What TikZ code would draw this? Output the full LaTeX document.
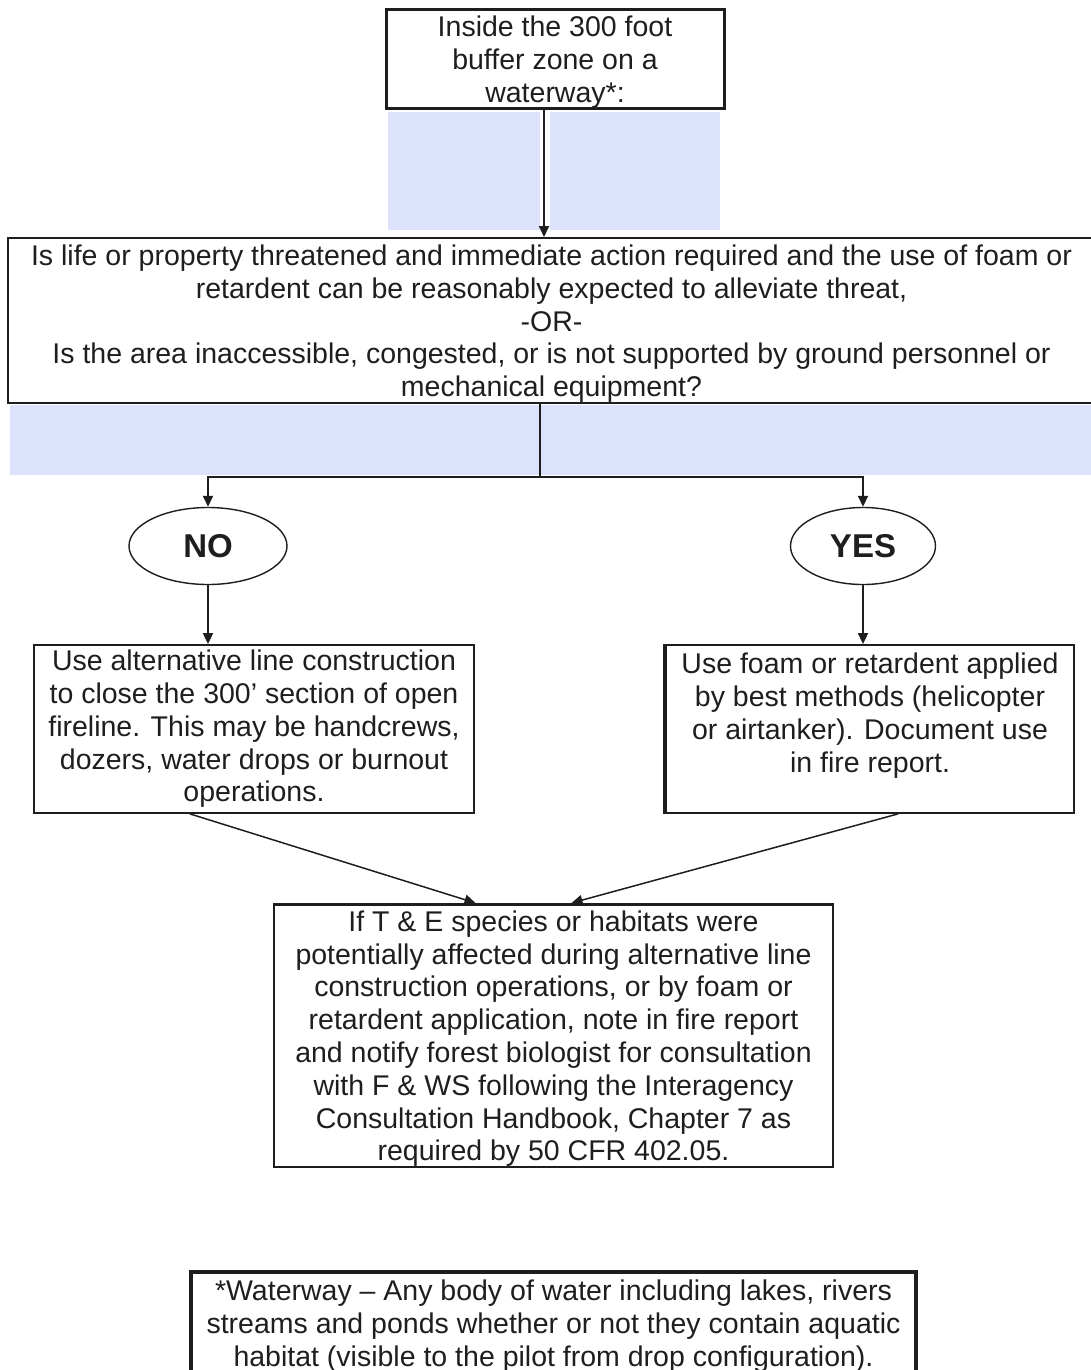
\documentclass[tikz,border=0pt]{standalone}
\usepackage{fontspec}
\setmainfont{Liberation Sans}
\usetikzlibrary{arrows.meta,shapes.geometric}
\definecolor{bandblue}{HTML}{DCE2FB}
\definecolor{ink}{HTML}{1E1E1E}
\newcommand{\lowr}{\rule{0pt}{27pt}}
\begin{document}
\begin{tikzpicture}[x=1pt,y=-1pt,
  box/.style={draw=ink, text=ink, rectangle, inner sep=0pt, align=center,
              font=\fontsize{28.5}{32.8}\selectfont},
  oval/.style={draw=ink, text=ink, ellipse, inner sep=0pt, line width=1.4pt,
               font=\fontsize{33}{36}\selectfont\bfseries},
  arr/.style={draw=ink, line width=1.8pt, -{Triangle[length=11pt,width=10pt]}},
  plain/.style={draw=ink, line width=1.8pt}]
\useasboundingbox (0,0) rectangle (1091,1370);

% light blue backgrounds
\fill[bandblue] (388,112) rectangle (540,230);
\fill[bandblue] (550,112) rectangle (720,230);
\fill[bandblue] (10,405) rectangle (1091,475);

% nodes
\node[box, line width=3pt, minimum width=338pt, minimum height=98pt] (top) at (555,59)
  {\lowr Inside the 300 foot\\ buffer zone on a\\ waterway*:};

\node[box, line width=2pt, minimum width=1087pt, minimum height=165pt] (main) at (551.5,320.5)
  {\lowr Is life or property threatened and immediate action required and the use of foam or\\
   retardent can be reasonably expected to alleviate threat,\\
   -OR-\\
   Is the area inaccessible, congested, or is not supported by ground personnel or\\
   mechanical equipment?};

\node[oval, minimum width=158pt, minimum height=77pt] (no) at (208,546) {NO};
\node[oval, minimum width=145pt, minimum height=77pt] (yes) at (863,546) {YES};

\node[box, line width=1.8pt, minimum width=440pt, minimum height=168pt] (left) at (254,729)
  {Use alternative line construction\\ to close the 300’ section of open\\
   fireline. This may be handcrews,\\ dozers, water drops or burnout\\ operations.};

\node[box, line width=1.8pt, minimum width=408pt, minimum height=168pt] (right) at (870,729)
  {Use foam or retardent applied\\ by best methods (helicopter\\
   or airtanker). Document use\\ in fire report.\\ \mbox{}};
\draw[draw=ink, line width=4pt] (right.north west) -- (right.south west);

\node[box, line width=2.5pt, minimum width=559pt, minimum height=259pt] (bot) at (553.5,1035.5)
  {\lowr If T \& E species or habitats were\\
   potentially affected during alternative line\\
   construction operations, or by foam or\\
   retardent application, note in fire report\\
   and notify forest biologist for consultation\\
   with F \& WS following the Interagency\\
   Consultation Handbook, Chapter 7 as\\
   required by 50 CFR 402.05.};

\node[box, line width=3.5pt, minimum width=725pt, minimum height=102pt] (foot) at (553.5,1323)
  {\lowr *Waterway – Any body of water including lakes, rivers\\
   streams and ponds whether or not they contain aquatic\\
   habitat (visible to the pilot from drop configuration).};

% connectors
\coordinate (c1) at (544,0);
\draw[arr] (top.south -| c1) -- (main.north -| c1);

\coordinate (j) at (540,477);
\draw[plain] (main.south -| j) -- (j);
\draw[arr] (j) -| (no.north);
\draw[arr] (j) -| (yes.north);

\draw[arr] (no.south) -- (left.north -| no);
\draw[arr] (yes.south) -- (right.north -| yes);

\draw[arr, line width=1.5pt] ([xshift=-64pt]left.south) -- ([xshift=-78pt]bot.north);
\draw[arr, line width=1.5pt] ([xshift=28pt]right.south) -- ([xshift=18pt]bot.north);
\end{tikzpicture}
\end{document}
